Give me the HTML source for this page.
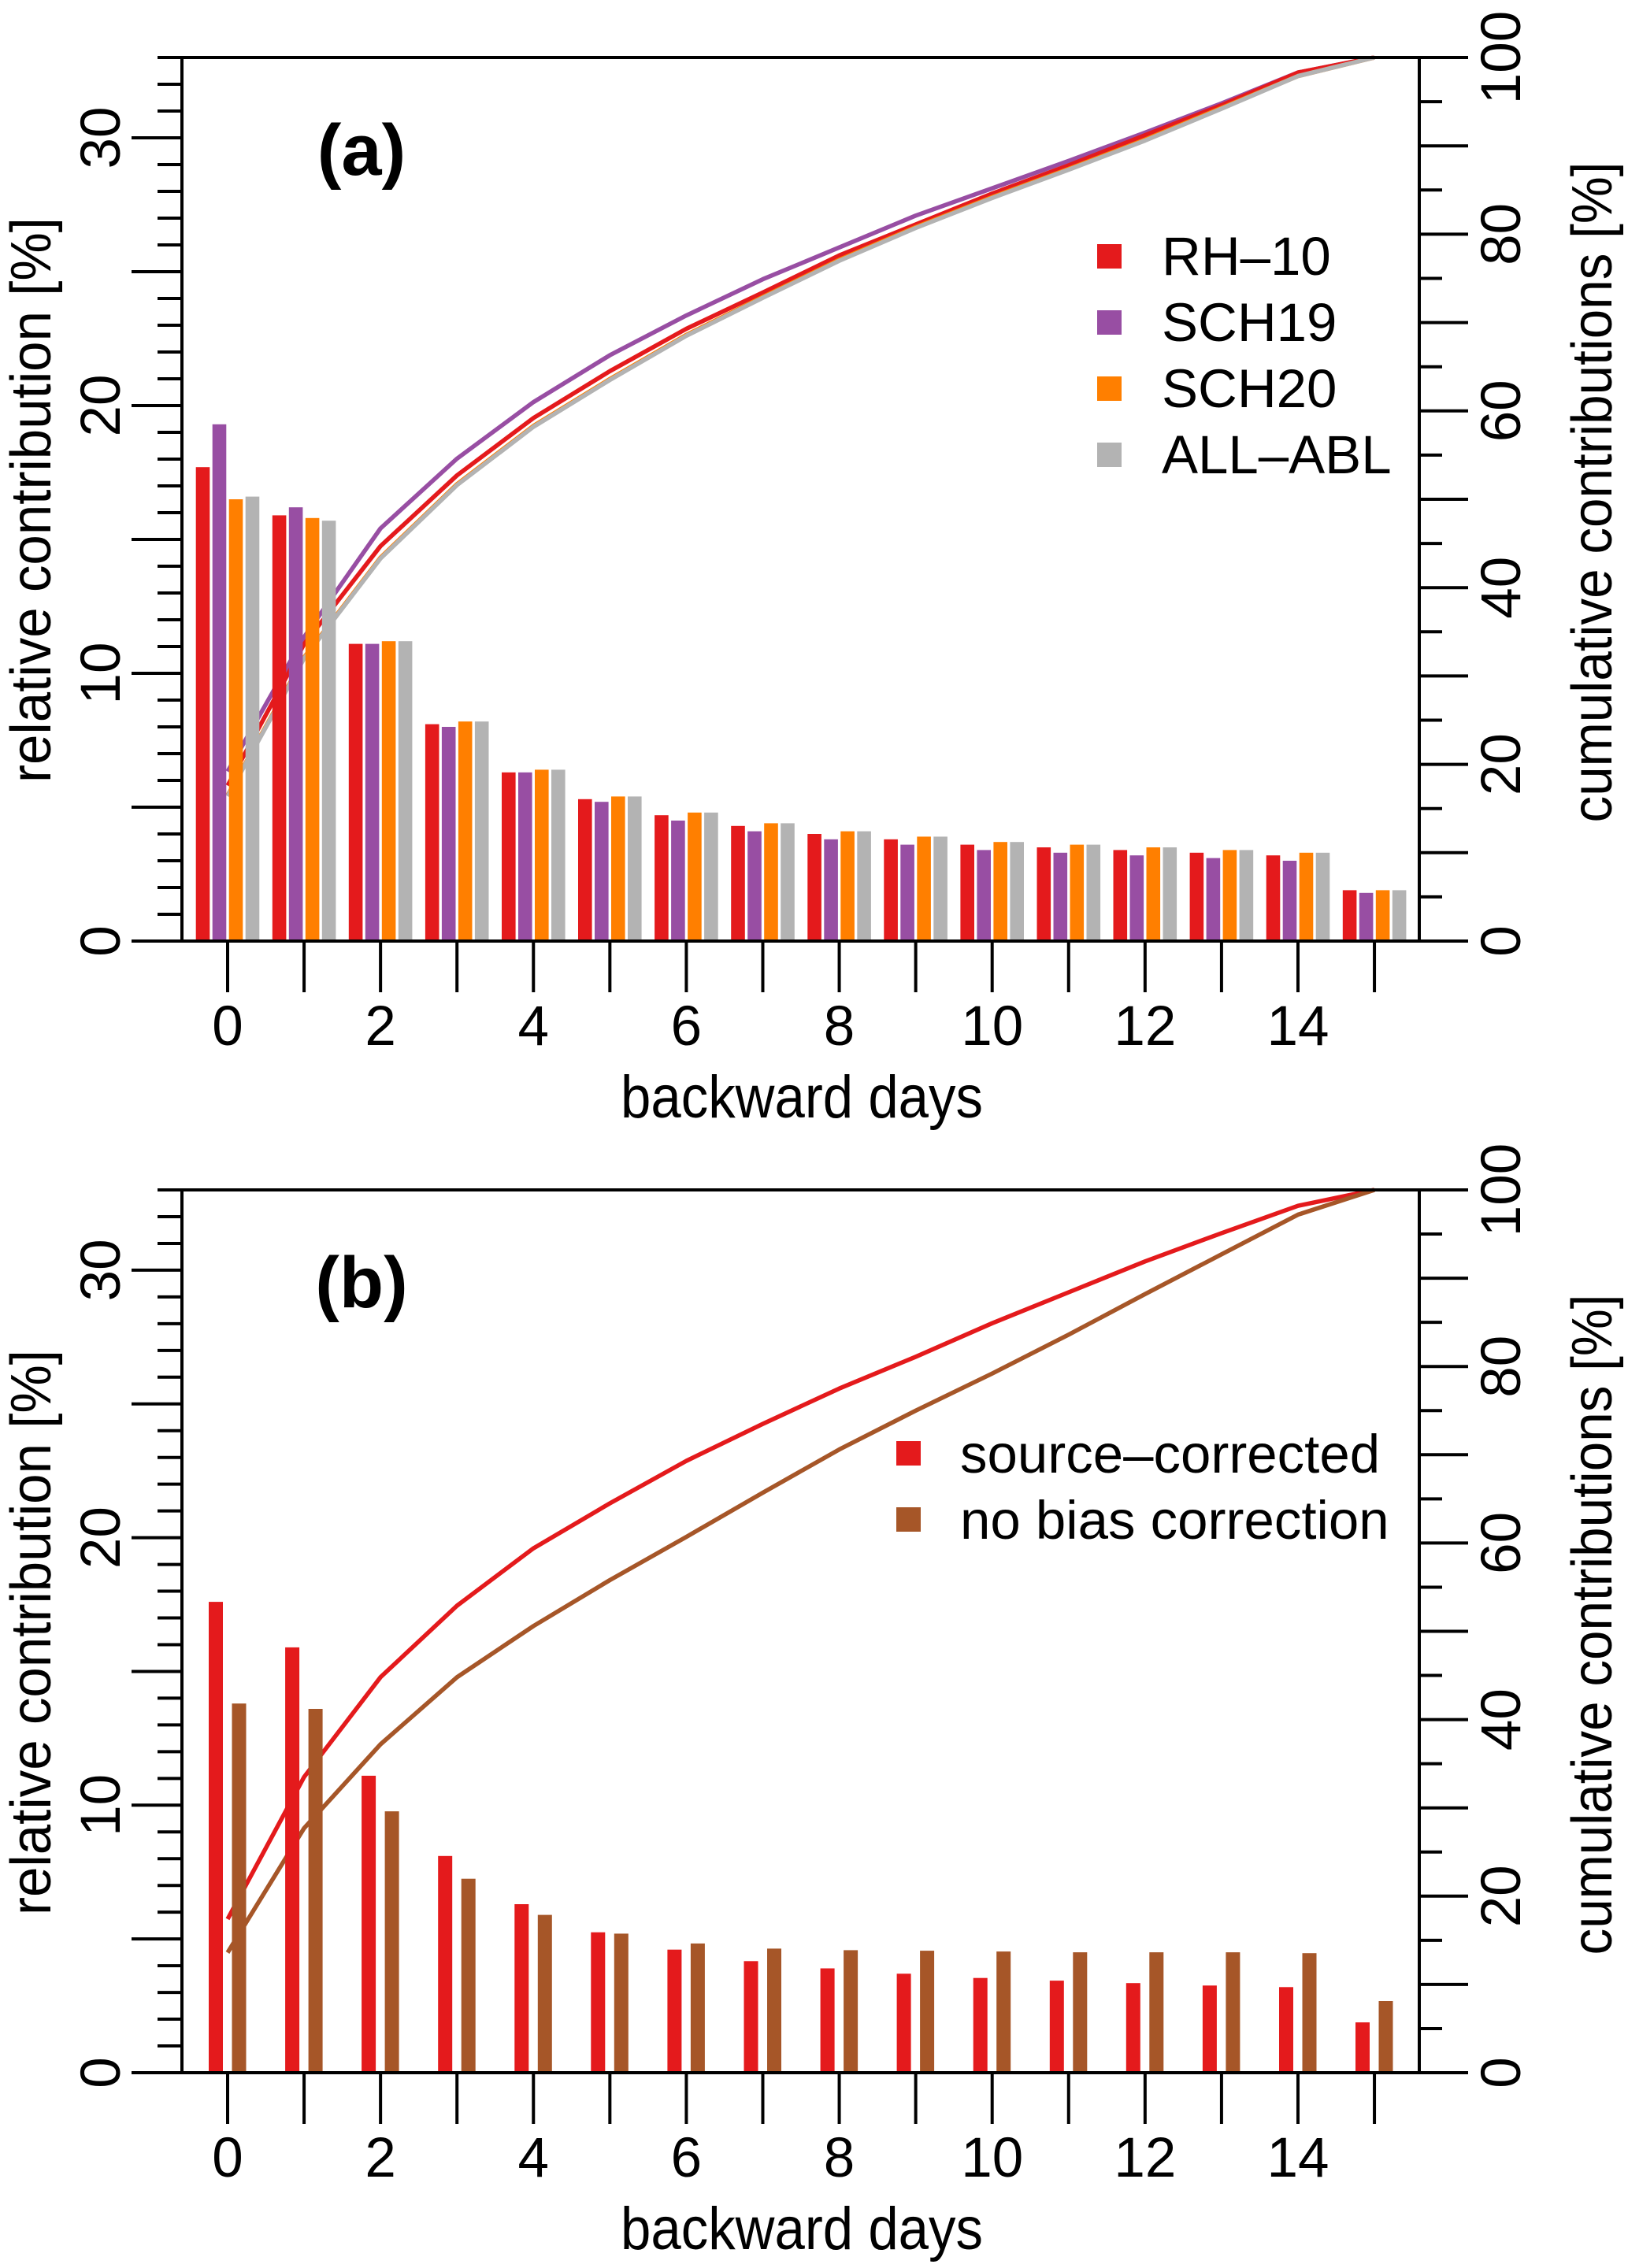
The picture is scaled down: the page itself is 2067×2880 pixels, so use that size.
<!DOCTYPE html>
<html><head><meta charset="utf-8">
<style>
html,body{margin:0;padding:0;background:#fff;}
svg{display:block;font-family:"Liberation Sans",sans-serif;}
</style></head>
<body>
<svg id="chart" width="2067" height="2880" viewBox="0 0 2067 2880" xmlns="http://www.w3.org/2000/svg"></svg>
<script>
// ---- data ----
const days = [0,1,2,3,4,5,6,7,8,9,10,11,12,13,14,15];
const xTickLabels = ["0","2","4","6","8","10","12","14"];
const leftTickLabels = ["0","10","20","30"];
const rightTickLabels = ["0","20","40","60","80","100"];

const barsRH10 = [17.7,15.9,11.1,8.1,6.3,5.3,4.7,4.3,4.0,3.8,3.6,3.5,3.4,3.3,3.2,1.9];
const barsSCH19 = [19.3,16.2,11.1,8.0,6.3,5.2,4.5,4.1,3.8,3.6,3.4,3.3,3.2,3.1,3.0,1.8];
const barsSCH20 = [16.5,15.8,11.2,8.2,6.4,5.4,4.8,4.4,4.1,3.9,3.7,3.6,3.5,3.4,3.3,1.9];
const barsALLABL = [16.6,15.7,11.2,8.2,6.4,5.4,4.8,4.4,4.1,3.9,3.7,3.6,3.5,3.4,3.3,1.9];

const cumRH10 = [17.6,33.6,44.7,52.7,59.2,64.5,69.3,73.4,77.6,81.1,84.6,87.8,91.2,94.6,98.3,100];
const cumSCH19 = [19.2,34.4,46.7,54.6,61.0,66.3,70.8,74.9,78.5,82.1,85.2,88.3,91.5,94.8,98.3,100];
const cumSCH20 = [16.5,32.1,43.4,51.7,58.3,63.6,68.6,72.9,77.1,80.8,84.2,87.4,90.7,94.3,97.9,100];
const cumALLABL = [16.4,32.0,43.3,51.6,58.2,63.5,68.5,72.8,77.0,80.7,84.1,87.3,90.6,94.2,97.9,100];

const barsSource = [17.6,15.9,11.1,8.1,6.3,5.25,4.6,4.17,3.9,3.7,3.54,3.44,3.35,3.26,3.2,1.88];
const barsNoBias = [13.8,13.6,9.77,7.25,5.9,5.2,4.83,4.64,4.58,4.56,4.53,4.5,4.5,4.5,4.47,2.68];
const cumSource = [17.4,33.5,44.8,52.9,59.4,64.5,69.3,73.5,77.5,81.1,84.9,88.4,91.9,95.1,98.2,100];
const cumNoBias = [13.6,27.7,37.2,44.8,50.6,55.8,60.7,65.7,70.6,75.0,79.2,83.6,88.2,92.7,97.2,100];

// ---- layout ----
const NS = "http://www.w3.org/2000/svg";
const svg = document.getElementById("chart");
const X0 = 289, DX = 97.07, AXL = 231, AXR = 1802;
const LMAX = 33;
function mk(tag, attrs, parent){const e=document.createElementNS(NS,tag);for(const k in attrs)e.setAttribute(k,attrs[k]);(parent||svg).appendChild(e);return e;}

function panel(pid, top, base, letter, barSets, barOffsets, barW, lineSets, legend){
  const g = mk("g",{});
  
  
  const xs = d => X0 + d*DX;
  const yl = v => base - v*(base-top)/LMAX;
  const yr = v => base - v*(base-top)/100;
  const black = "#000";
  lineSets.forEach(ls=>{
    const pts = days.map((d,i)=>xs(d).toFixed(1)+","+yr(ls.vals[i]).toFixed(1)).join(" ");
    const pl = mk("polyline",{points:pts,fill:"none",stroke:ls.color,"stroke-width":5.5,"stroke-linejoin":"round"},g);
    
    
  });
  barSets.forEach((bs,si)=>{
    days.forEach((d,i)=>{
      const v = bs.vals[i];
      const cx = xs(d)+barOffsets[si];
      const r = mk("rect",{x:(cx-barW/2).toFixed(1),y:yl(v).toFixed(1),width:barW,height:(base-yl(v)).toFixed(1),fill:bs.color},g);
      
      
    });
  });
  const ax = mk("g",{stroke:black,"stroke-width":4,fill:"none"},g);
  
  
  mk("line",{x1:AXL,y1:top,x2:AXL,y2:base},ax);
  mk("line",{x1:AXR,y1:top,x2:AXR,y2:base},ax);
  mk("line",{x1:200,y1:top,x2:1864,y2:top},ax);
  mk("line",{x1:167,y1:base,x2:1864,y2:base},ax);
  for(let v=0; v<=LMAX; v++){
    const len = v%5===0?64:31;
    mk("line",{x1:AXL-len,y1:yl(v),x2:AXL,y2:yl(v)},ax);
  }
  for(let v=0; v<=100; v+=5){
    const len = v%10===0?62:29;
    mk("line",{x1:AXR,y1:yr(v),x2:AXR+len,y2:yr(v)},ax);
  }
  days.forEach(d=>mk("line",{x1:xs(d),y1:base,x2:xs(d),y2:base+65},ax));
  xTickLabels.forEach(t=>{
    const tx = mk("text",{x:xs(+t),y:base+132,"text-anchor":"middle","font-size":71},g);
    tx.textContent=t;
    
    
  });
  leftTickLabels.forEach(t=>{
    const y=yl(+t);
    const tx = mk("text",{x:152,y:y,"text-anchor":"middle","font-size":71,transform:"rotate(-90 152 "+y+")"},g);
    tx.textContent=t;
    
    
  });
  rightTickLabels.forEach(t=>{
    const y=yr(+t);
    const tx = mk("text",{x:1930,y:y,"text-anchor":"middle","font-size":71,transform:"rotate(-90 1930 "+y+")"},g);
    tx.textContent=t;
    
    
  });
  const xt = mk("text",{x:1018,y:base+224,"text-anchor":"middle","font-size":76,textLength:460,lengthAdjust:"spacingAndGlyphs"},g);
  xt.textContent="backward days";
  
  
  const lyc = top + 562;
  const lt = mk("text",{x:64,y:lyc,"text-anchor":"middle","font-size":72,textLength:718,lengthAdjust:"spacingAndGlyphs",transform:"rotate(-90 64 "+lyc+")"},g);
  lt.textContent="relative contribution [%]";
  
  
  const ryc = top + 552;
  const rt = mk("text",{x:2046,y:ryc,"text-anchor":"middle","font-size":72,textLength:839,lengthAdjust:"spacingAndGlyphs",transform:"rotate(-90 2046 "+ryc+")"},g);
  rt.textContent="cumulative contributions [%]";
  
  
  const pl = mk("text",{x:459,y:top+149,"text-anchor":"middle","font-size":92,"font-weight":"bold"},g);
  pl.textContent=letter;
  
  
  const lg = mk("g",{},g);
  
  
  legend.items.forEach((it,i)=>{
    const yy = legend.y0 + i*legend.dy;
    const sq = mk("rect",{x:legend.sx,y:yy,width:31,height:31,fill:it.color},lg);
    
    
    const tx = mk("text",{x:legend.tx,y:yy+legend.base,"font-size":69},lg);
    tx.textContent=it.label;
    
    
  });
}

const RED="#E41A1C", PUR="#984EA3", ORA="#FF7F00", GRY="#B3B3B3", BRN="#A65628";

panel("a",73,1195,"(a)",
  [{name:"rh10",vals:barsRH10,color:RED},{name:"sch19",vals:barsSCH19,color:PUR},{name:"sch20",vals:barsSCH20,color:ORA},{name:"allabl",vals:barsALLABL,color:GRY}],
  [-31.5,-10.5,10.5,31.5],17.6,
  [{name:"sch19",vals:cumSCH19,color:PUR},{name:"rh10",vals:cumRH10,color:RED},{name:"sch20",vals:cumSCH20,color:ORA},{name:"allabl",vals:cumALLABL,color:GRY}],
  {sx:1393,y0:310,dy:84,tx:1475,base:39,items:[{label:"RH–10",color:RED},{label:"SCH19",color:PUR},{label:"SCH20",color:ORA},{label:"ALL–ABL",color:GRY}]}
);

panel("b",1511,2632,"(b)",
  [{name:"source-corrected",vals:barsSource,color:RED},{name:"no-bias-correction",vals:barsNoBias,color:BRN}],
  [-15,14.5],18,
  [{name:"source-corrected",vals:cumSource,color:RED},{name:"no-bias-correction",vals:cumNoBias,color:BRN}],
  {sx:1138,y0:1830,dy:84,tx:1219,base:40,items:[{label:"source–corrected",color:RED},{label:"no bias correction",color:BRN}]}
);
</script>
</body></html>
